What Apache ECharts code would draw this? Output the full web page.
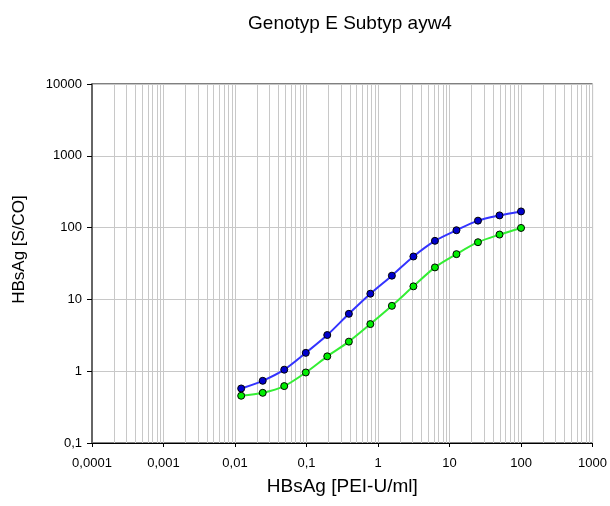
<!DOCTYPE html>
<html>
<head>
<meta charset="utf-8">
<script src="https://cdn.jsdelivr.net/npm/echarts@6/dist/echarts.min.js"></script>
<style>html,body{margin:0;padding:0;background:#fff}#c{width:610px;height:506px}</style>
</head>
<body>
<div id="c"></div>
<script>
const concentrations = [0.0122, 0.0244, 0.0488, 0.0977, 0.195, 0.391, 0.781, 1.5625, 3.125, 6.25, 12.5, 25, 50, 100];
const seriesBlue = [0.575, 0.735, 1.05, 1.80, 3.19, 6.30, 12.0, 21.4, 39.6, 65.4, 91.9, 125, 148, 168];
const seriesGreen = [0.455, 0.50, 0.62, 0.96, 1.61, 2.58, 4.53, 8.13, 15.2, 27.9, 42.7, 62.6, 80.0, 98.9];
const xTickLabels = ['0,0001', '0,001', '0,01', '0,1', '1', '10', '100', '1000'];
const yTickLabels = ['0,1', '1', '10', '100', '1000', '10000'];
const titleText = 'Genotyp E Subtyp ayw4';
const xName = 'HBsAg [PEI-U/ml]';
const yName = 'HBsAg [S/CO]';

const xMin = 0.0001, xMax = 1000, yMin = 0.1, yMax = 10000;

// minor vertical gridlines at 2..9 within each decade of the x axis
const minorX = [];
for (let e = -4; e < 3; e++) {
  for (let k = 2; k <= 9; k++) {
    minorX.push(k * Math.pow(10, e));
  }
}

function fmt(v, labels, minExp) {
  const e = Math.round(Math.log10(v));
  return labels[e - minExp] !== undefined ? labels[e - minExp] : '';
}

const chart = echarts.init(document.getElementById('c'), null, { renderer: 'canvas' });
const font = 'Liberation Sans, Arial, sans-serif';
chart.setOption({
  animation: false,
  backgroundColor: '#fff',
  title: {
    text: titleText, left: 345, top: 9, textAlign: 'center',
    textStyle: { fontFamily: font, fontSize: 19, fontWeight: 'normal', color: '#000' }
  },
  grid: { left: 92, right: 16, top: 84, bottom: 63, show: true, borderColor: '#000', borderWidth: 1 },
  xAxis: {
    type: 'log', logBase: 10, min: xMin, max: xMax,
    name: xName, nameLocation: 'middle', nameGap: 34,
    nameTextStyle: { fontFamily: font, fontSize: 19, color: '#000' },
    axisLine: { show: true, lineStyle: { color: '#000', width: 1 } },
    axisTick: { show: true, length: 4, lineStyle: { color: '#000' } },
    axisLabel: { margin: 14, fontFamily: font, fontSize: 13, color: '#000', formatter: v => fmt(v, xTickLabels, -4) },
    splitLine: { show: true, lineStyle: { color: '#c8c8c8', width: 1 } }
  },
  yAxis: {
    type: 'log', logBase: 10, min: yMin, max: yMax,
    name: yName, nameLocation: 'middle', nameGap: 64, nameRotate: 90,
    nameTextStyle: { fontFamily: font, fontSize: 17, color: '#000', padding: [0, 0, 0, 28] },
    axisLine: { show: true, lineStyle: { color: '#666', width: 2 } },
    axisTick: { show: true, length: 5, lineStyle: { color: '#000' } },
    axisLabel: { margin: 10, fontFamily: font, fontSize: 13, color: '#000', formatter: v => fmt(v, yTickLabels, -1) },
    splitLine: { show: true, lineStyle: { color: '#c8c8c8', width: 1 } }
  },
  series: [
    {
      type: 'custom', name: 'minorGrid', silent: true, z: 0,
      data: minorX.map(v => [v]),
      encode: { x: 0 },
      renderItem: function (params, api) {
        const x = api.value(0);
        const p1 = api.coord([x, yMin]);
        const p2 = api.coord([x, yMax]);
        const px = Math.round(p1[0]) + 0.5;
        return {
          type: 'line',
          shape: { x1: px, y1: p1[1], x2: px, y2: p2[1] },
          style: { stroke: '#c8c8c8', lineWidth: 1 }
        };
      }
    },
    {
      type: 'line', name: 'blue', smooth: 0.3,
      data: concentrations.map((c, i) => [c, seriesBlue[i]]),
      symbol: 'circle', symbolSize: 7,
      lineStyle: { color: '#3333ff', width: 2 },
      itemStyle: { color: '#0000cc', borderColor: '#000', borderWidth: 1 },
      z: 5
    },
    {
      type: 'line', name: 'green', smooth: 0.3,
      data: concentrations.map((c, i) => [c, seriesGreen[i]]),
      symbol: 'circle', symbolSize: 7,
      lineStyle: { color: '#33ee33', width: 2 },
      itemStyle: { color: '#00ee00', borderColor: '#000', borderWidth: 1 },
      z: 4
    }
  ]
});
</script>
</body>
</html>
